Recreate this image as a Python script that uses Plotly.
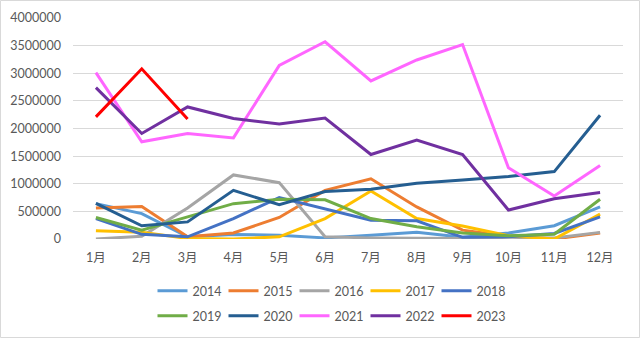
import plotly.graph_objects as go

months = ["1月", "2月", "3月", "4月", "5月", "6月", "7月", "8月", "9月", "10月", "11月", "12月"]

s2014 = [640000, 460000, 40000, 80000, 70000, 20000, 70000, 120000, 30000, 110000, 240000, 580000]
s2015 = [560000, 590000, 40000, 110000, 390000, 880000, 1090000, 580000, 160000, 50000, 0, 110000]
s2016 = [0, 50000, 560000, 1160000, 1020000, 40000, 20000, 20000, 10000, 30000, 20000, 120000]
s2017 = [150000, 120000, 10000, 0, 40000, 370000, 870000, 370000, 235000, 60000, 0, 450000]
s2018 = [370000, 85000, 40000, 370000, 750000, 540000, 340000, 330000, 30000, 40000, 100000, 400000]
s2019 = [390000, 160000, 400000, 640000, 720000, 710000, 370000, 220000, 110000, 60000, 85000, 720000]
s2020 = [646000, 240000, 310000, 880000, 620000, 860000, 900000, 1010000, 1070000, 1130000, 1220000, 2240000]
s2021 = [3010000, 1760000, 1910000, 1830000, 3140000, 3570000, 2860000, 3240000, 3520000, 1290000, 780000, 1330000]
s2022 = [2740000, 1910000, 2390000, 2180000, 2080000, 2190000, 1530000, 1790000, 1530000, 525000, 730000, 840000]
s2023 = [2210000, 3080000, 2170000]

series = [
    ("2014", s2014, "#5B9BD5"),
    ("2015", s2015, "#ED7D31"),
    ("2016", s2016, "#A5A5A5"),
    ("2017", s2017, "#FFC000"),
    ("2018", s2018, "#4472C4"),
    ("2019", s2019, "#70AD47"),
    ("2020", s2020, "#255E91"),
    ("2021", s2021, "#FF66FF"),
    ("2022", s2022, "#7030A0"),
    ("2023", s2023, "#FF0000"),
]

fig = go.Figure()
for i, (name, vals, color) in enumerate(series):
    fig.add_trace(go.Scatter(
        x=months[:len(vals)], y=vals, name=name, mode="lines",
        line=dict(color=color, width=3),
        legend="legend" if i < 5 else "legend2",
    ))

font = dict(family="Lato, 'Noto Sans CJK SC', sans-serif", size=12.5, color="#595959")
W, H = 640, 338
L, R, T, B = 73, 17, 18, 99
pw, ph = W - L - R, H - T - B

def px(x):
    return (x - L) / pw

def py(y):
    return (H - B - y) / ph

legend_common = dict(orientation="h", xanchor="center", yanchor="middle",
                     xref="container", yref="container", x=330 / W,
                     font=font, bgcolor="rgba(0,0,0,0)", entrywidth=26,
                     entrywidthmode="pixels", itemwidth=30, tracegroupgap=0)

fig.update_layout(
    width=W, height=H,
    margin=dict(l=L, r=R, t=T, b=B, autoexpand=False),
    paper_bgcolor="white", plot_bgcolor="white",
    font=font,
    showlegend=True,
    legend=dict(y=1 - 291 / H, **legend_common),
    legend2=dict(y=1 - 316 / H, **legend_common),
    xaxis=dict(type="category", range=[-0.5, 11.5], showgrid=False, showline=False,
               ticks="", tickfont=font, zeroline=False, ticklabelstandoff=9,
               automargin=False),
    yaxis=dict(range=[0, 4000000], dtick=500000, tickformat="d", showgrid=True,
               gridcolor="#D9D9D9", gridwidth=1, zeroline=False, showline=False,
               tickfont=font, ticks="", ticklabelstandoff=11, automargin=False),
    shapes=[dict(type="rect", xref="paper", yref="paper",
                 x0=px(0.5), x1=px(639.5), y0=py(337.5), y1=py(0.5),
                 line=dict(color="#D9D9D9", width=1))],
)

fig.write_html("out.html")
